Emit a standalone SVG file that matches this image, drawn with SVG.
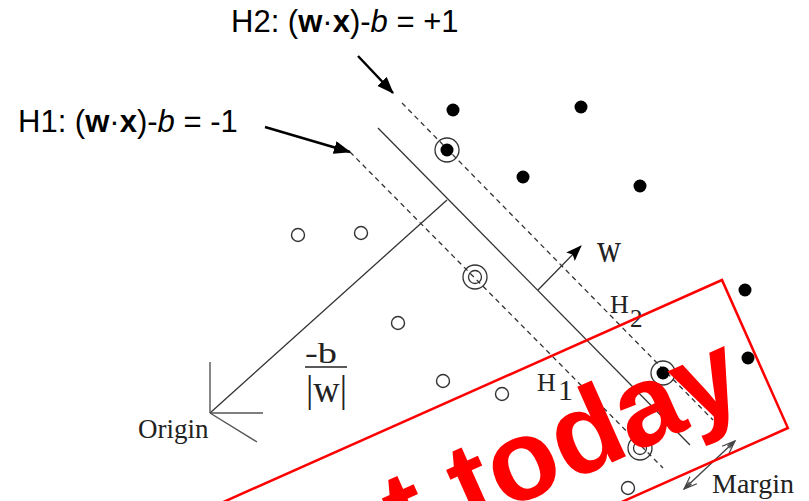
<svg xmlns="http://www.w3.org/2000/svg" width="809" height="501" viewBox="0 0 809 501">
<style>
.sans{font-family:"Liberation Sans",Arial,sans-serif;fill:#000}
.serif{font-family:"Liberation Serif","Times New Roman",serif;fill:#222}
.ln{stroke:#333;stroke-width:1.3;fill:none}
.dash{stroke:#333;stroke-width:1.3;fill:none;stroke-dasharray:5 4}
.dot{fill:#000}
.ring{fill:none;stroke:#333;stroke-width:1.3}
.open{fill:#fff;stroke:#333;stroke-width:1.4}
.ptr{stroke:#000;stroke-width:2.5;fill:none}
</style>
<defs>
<marker id="big" markerUnits="userSpaceOnUse" markerWidth="17" markerHeight="13" refX="16" refY="6.5" orient="auto">
<path d="M0,0 L17,6.5 L0,13 z" fill="#000"/>
</marker>
<marker id="wa" markerUnits="userSpaceOnUse" markerWidth="16" markerHeight="12" refX="15" refY="6" orient="auto">
<path d="M0,0 L16,6 L0,12 L3,6 z" fill="#000"/>
</marker>
<marker id="va" markerUnits="userSpaceOnUse" markerWidth="14" markerHeight="12" refX="13" refY="6" orient="auto-start-reverse">
<path d="M0,1 L13,6 L0,11 M4,4.5 L13,6 L4,7.5" fill="none" stroke="#444" stroke-width="1.2"/>
</marker>
</defs>

<g id="connectors">
<line id="hyperplane" class="ln" x1="378" y1="128" x2="690" y2="445"/>
<line id="H2-line" class="dash" x1="402" y1="103" x2="713" y2="420"/>
<line id="H1-line" class="dash" x1="350" y1="152" x2="663" y2="468"/>
<line id="offset" class="ln" x1="210" y1="413" x2="447" y2="200"/>
<line id="w-arrow" class="ln" x1="538" y1="290" x2="581" y2="246" marker-end="url(#wa)"/>
<line id="H2-pointer" class="ptr" x1="358" y1="56" x2="393" y2="93" marker-end="url(#big)"/>
<line id="H1-pointer" class="ptr" x1="265" y1="127" x2="350" y2="152" marker-end="url(#big)"/>
<line id="margin-arrow" stroke="#444" stroke-width="1.3" x1="684" y1="489" x2="735" y2="441" marker-start="url(#va)" marker-end="url(#va)"/>
</g>

<g id="origin">
<g stroke="#555" stroke-width="1.4">
<line x1="210" y1="413" x2="210" y2="362"/>
<line x1="210" y1="413" x2="263" y2="413"/>
<line x1="210" y1="413" x2="257" y2="442"/>
</g>
<text class="serif" x="138" y="438" font-size="27">Origin</text>
</g>

<g id="positive-points">
<circle class="dot" cx="453" cy="110" r="6.5"/>
<circle class="dot" cx="581" cy="107" r="6.5"/>
<g id="sv-pos-1"><circle class="dot" cx="447" cy="150" r="6.5"/><circle class="ring" cx="447" cy="150" r="12"/></g>
<circle class="dot" cx="523" cy="177" r="6.5"/>
<circle class="dot" cx="640" cy="186" r="6.5"/>
<circle class="dot" cx="745" cy="290" r="6.5"/>
<circle class="dot" cx="748" cy="358" r="6.5"/>
<g id="sv-pos-2"><circle class="dot" cx="663" cy="373" r="6.5"/><circle class="ring" cx="663" cy="373" r="12"/></g>
</g>

<g id="negative-points">
<circle class="open" cx="298" cy="235" r="6.5"/>
<circle class="open" cx="361" cy="233" r="6.5"/>
<g id="sv-neg-1"><circle class="ring" cx="475" cy="277" r="12"/><circle class="ring" cx="475" cy="277" r="6.5"/></g>
<circle class="open" cx="398" cy="323" r="6.5"/>
<circle class="open" cx="443" cy="381" r="6.5"/>
<circle class="open" cx="502" cy="394" r="6.5"/>
<g id="sv-neg-2"><circle class="ring" cx="640" cy="448" r="12"/><circle class="ring" cx="640" cy="448" r="6.5"/></g>
<circle class="open" cx="628" cy="488" r="6.5"/>
</g>

<g id="labels">
<text class="sans" x="231" y="32" font-size="31">H2: (<tspan font-weight="bold">w</tspan>·<tspan font-weight="bold">x</tspan>)-<tspan font-style="italic">b</tspan> = +1</text>
<text class="sans" x="18" y="132" font-size="31">H1: (<tspan font-weight="bold">w</tspan>·<tspan font-weight="bold">x</tspan>)-<tspan font-style="italic">b</tspan> = -1</text>
<text class="serif" x="597" y="262" font-size="40" textLength="24" lengthAdjust="spacingAndGlyphs">w</text>
<text class="serif" x="610" y="313" font-size="26">H<tspan x="630" y="327" font-size="25">2</tspan></text>
<text class="serif" x="537" y="391" font-size="26">H<tspan x="558" y="400" font-size="30">1</tspan></text>
<g id="fraction">
<text class="serif" x="305" y="363" font-size="30" textLength="32" lengthAdjust="spacingAndGlyphs">-b</text>
<line x1="305" y1="367" x2="347" y2="367" stroke="#222" stroke-width="1.5"/>
<text class="serif" x="306" y="402" font-size="38" textLength="41" lengthAdjust="spacingAndGlyphs">|w|</text>
</g>
<text class="serif" x="712" y="493" font-size="28">Margin</text>
</g>

<g id="stamp" transform="translate(722,280) rotate(-24)">
<rect x="-800" y="0" width="800" height="162" fill="none" stroke="#ff0000" stroke-width="2.5"/>
<text x="-24" y="122" text-anchor="end" font-family="'Liberation Sans',Arial,sans-serif" font-weight="bold" font-size="115" fill="#ff0000">t today</text>
</g>
</svg>
